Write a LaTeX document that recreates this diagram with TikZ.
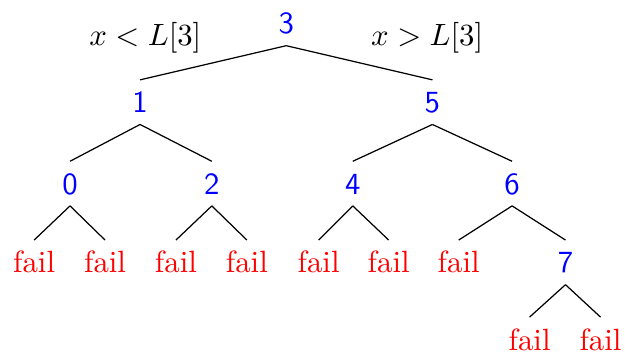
\documentclass[tikz,border=0pt]{standalone}
\usepackage{tikz}

\begin{document}
\begin{tikzpicture}[
    numnode/.style={text=blue,font=\sffamily,inner sep=0pt,outer sep=3.8pt,text height=6.9pt,text depth=0pt},
    failnode/.style={text=red,inner sep=0pt,outer sep=3.8pt,text height=6.9pt,text depth=0pt}]
  \useasboundingbox (0,0) rectangle (7.14,4.067);

  % root with the two comparisons
  \node[numnode] (n3) at (3.27,3.80) {3};
  \node (lt) at (1.66,3.64) {$x < L[3]$};
  \node (gt) at (4.88,3.64) {$x > L[3]$};

  % inner nodes
  \node[numnode] (n1) at (1.60,2.90) {1};
  \node[numnode] (n5) at (4.94,2.90) {5};
  \node[numnode] (n0) at (0.80,1.97) {0};
  \node[numnode] (n2) at (2.42,1.97) {2};
  \node[numnode] (n4) at (4.03,1.97) {4};
  \node[numnode] (n6) at (5.85,1.97) {6};
  \node[numnode] (n7) at (6.46,1.07) {7};

  % failure leaves
  \node[failnode] (f00) at (0.39,1.07) {fail};
  \node[failnode] (f01) at (1.20,1.07) {fail};
  \node[failnode] (f20) at (2.01,1.07) {fail};
  \node[failnode] (f21) at (2.82,1.07) {fail};
  \node[failnode] (f40) at (3.64,1.07) {fail};
  \node[failnode] (f41) at (4.44,1.07) {fail};
  \node[failnode] (f60) at (5.24,1.07) {fail};
  \node[failnode] (f70) at (6.05,0.19) {fail};
  \node[failnode] (f71) at (6.86,0.19) {fail};

  % edges
  \draw (n3.south) -- (n1.north);
  \draw (n3.south) -- (n5.north);
  \draw (n1.south) -- (n0.north);
  \draw (n1.south) -- (n2.north);
  \draw (n5.south) -- (n4.north);
  \draw (n5.south) -- (n6.north);
  \draw (n0.south) -- (f00.north);
  \draw (n0.south) -- (f01.north);
  \draw (n2.south) -- (f20.north);
  \draw (n2.south) -- (f21.north);
  \draw (n4.south) -- (f40.north);
  \draw (n4.south) -- (f41.north);
  \draw (n6.south) -- (f60.north);
  \draw (n6.south) -- (n7.north);
  \draw (n7.south) -- (f70.north);
  \draw (n7.south) -- (f71.north);
\end{tikzpicture}
\end{document}
